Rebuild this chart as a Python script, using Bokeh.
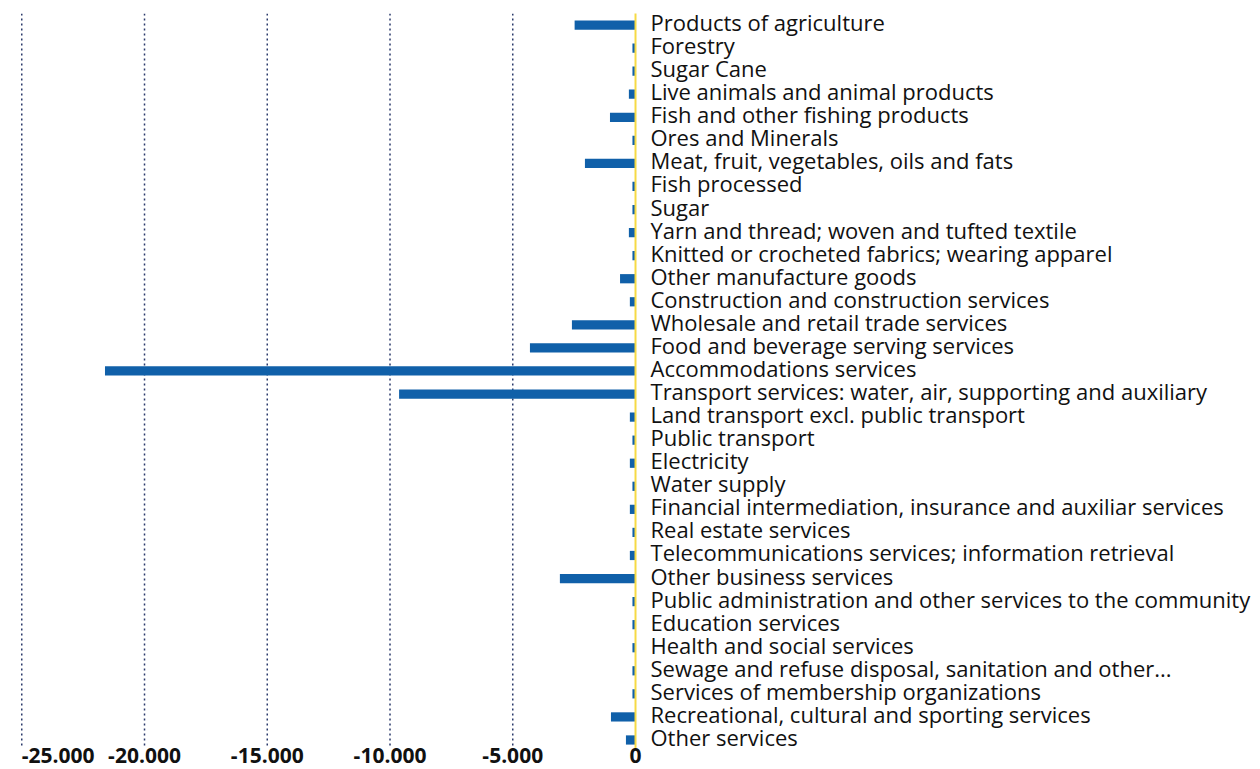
from bokeh.plotting import figure
from bokeh.models import Range1d
from bokeh.core.properties import value
from bokeh.embed import file_html
from bokeh.resources import INLINE

categories = [
    "Products of agriculture",
    "Forestry",
    "Sugar Cane",
    "Live animals and animal products",
    "Fish and other fishing products",
    "Ores and Minerals",
    "Meat, fruit, vegetables, oils and fats",
    "Fish processed",
    "Sugar",
    "Yarn and thread; woven and tufted textile",
    "Knitted or crocheted fabrics; wearing apparel",
    "Other manufacture goods",
    "Construction and construction services",
    "Wholesale and retail trade services",
    "Food and beverage serving services",
    "Accommodations services",
    "Transport services: water, air, supporting and auxiliary",
    "Land transport excl. public transport",
    "Public transport",
    "Electricity",
    "Water supply",
    "Financial intermediation, insurance and auxiliar services",
    "Real estate services",
    "Telecommunications services; information retrieval",
    "Other business services",
    "Public administration and other services to the community",
    "Education services",
    "Health and social services",
    "Sewage and refuse disposal, sanitation and other...",
    "Services of membership organizations",
    "Recreational, cultural and sporting services",
    "Other services",
]

values = [
    -2480, -125, -125, -270, -1040, -125, -2060, -125, -125, -270, -125,
    -630, -230, -2590, -4300, -21610, -9630, -230, -125, -230, -125, -230,
    -125, -230, -3080, -125, -125, -125, -125, -125, -1000, -390,
]

tick_values = [-25000, -20000, -15000, -10000, -5000, 0]
tick_labels = ["-25.000", "-20.000", "-15.000", "-10.000", "-5.000", "0"]
tick_align = ["left", "center", "center", "center", "center", "center"]

BAR = "#1060a9"
GRID = "#2b3a6b"
ZERO = "#f6da45"
FONT = "Open Sans"

n = len(categories)
rows = list(range(n))           # row 0 at the top
top = -0.5                      # upper edge of the first row
line_end = n - 0.65             # where grid lines and zero line stop
frame_bottom = 32.28            # leaves room for the tick labels
tick_row = 31.67                # vertical position of the tick labels

p = figure(
    width=1260, height=769,
    x_range=Range1d(-25866, 25458),
    y_range=Range1d(frame_bottom, top),
    x_axis_location=None, y_axis_location=None,
    output_backend="svg", toolbar_location=None,
    min_border_left=0, min_border_right=0, min_border_top=13, min_border_bottom=0,
)
p.outline_line_color = None
p.grid.visible = False

# dotted vertical grid lines at the negative ticks, limited to the bar area
grid_x = tick_values[:-1]
p.segment(x0=grid_x, x1=grid_x, y0=[top] * len(grid_x), y1=[line_end] * len(grid_x),
          line_color=GRID, line_dash="2 3", line_width=1.5)

p.hbar(y=rows, left=0, right=values, height=0.4, color=BAR, line_color=None)

# yellow zero line
p.segment(x0=[tick_values[-1]], x1=[tick_values[-1]], y0=[top - 0.08], y1=[line_end],
          line_color=ZERO, line_width=2)

label_x = [0] * n
p.text(x=label_x, y=rows, text=categories, x_offset=15, y_offset=-3,
       text_align="left", text_baseline="middle",
       text_font=value(FONT), text_font_size="22px", text_color="#111111")

p.text(x=tick_values, y=[tick_row] * len(tick_values), text=tick_labels, text_align=tick_align,
       text_baseline="middle", text_font=value(FONT), text_font_size="21px",
       text_font_style="bold", text_color="#111111")

open("out.html", "w").write(file_html(p, INLINE))
